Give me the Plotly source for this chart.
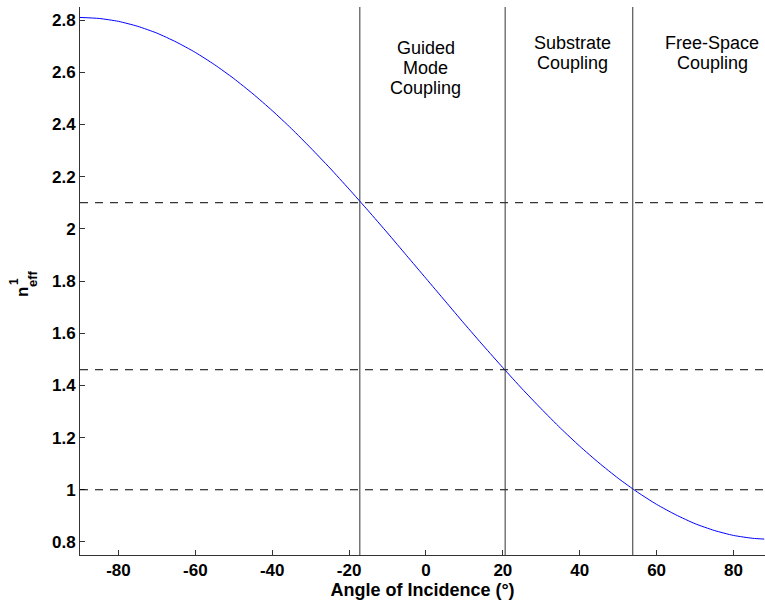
import plotly.graph_objects as go

# Data
angle_deg = [-90, -85, -80, -75, -70, -65, -60, -55, -50, -45, -40, -35, -30, -25, -20, -15, -10, -5,
             0, 5, 10, 15, 20, 25, 30, 35, 40, 45, 50, 55, 60, 65, 70, 75, 80, 85, 88]
n_eff = [2.810, 2.806, 2.795, 2.776, 2.750, 2.716, 2.676, 2.629, 2.576, 2.517, 2.453, 2.384, 2.310,
         2.233, 2.152, 2.069, 1.984, 1.897, 1.810, 1.723, 1.636, 1.551, 1.468, 1.387, 1.310, 1.236,
         1.167, 1.103, 1.044, 0.991, 0.944, 0.904, 0.870, 0.844, 0.825, 0.814, 0.811]

threshold_n = [2.1, 1.46, 1.0]
boundary_angles = [-17.2, 20.6, 53.8]
region_lines = [["Guided", "Mode", "Coupling"], ["Substrate", "Coupling"], ["Free-Space", "Coupling"]]
region_label_x = [0, 38, 74.5]
region_label_top_px = [36, 31, 31]

x_range = [-90, 88.2]
y_range = [0.75, 2.85]
x_ticks = [-80, -60, -40, -20, 0, 20, 40, 60, 80]
x_tick_text = ["-80", "-60", "-40", "-20", "0", "20", "40", "60", "80"]
y_ticks = [0.8, 1, 1.2, 1.4, 1.6, 1.8, 2, 2.2, 2.4, 2.6, 2.8]
y_tick_text = ["0.8", "1", "1.2", "1.4", "1.6", "1.8", "2", "2.2", "2.4", "2.6", "2.8"]

FONT = "Liberation Sans, Arial, Helvetica, sans-serif"

fig = go.Figure()
fig.add_trace(go.Scatter(x=angle_deg, y=n_eff, mode="lines",
                         line=dict(color="#0000ff", width=1, shape="spline", smoothing=0.6),
                         showlegend=False, hoverinfo="skip"))

shapes = []
for yv in threshold_n:
    shapes.append(dict(type="line", xref="paper", yref="y", x0=0, x1=1, y0=yv, y1=yv,
                       line=dict(color="black", width=1, dash="8px,7px")))
for xv in boundary_angles:
    shapes.append(dict(type="line", xref="x", yref="paper", x0=xv, x1=xv, y0=0, y1=1,
                       line=dict(color="#333333", width=1)))

W, H, L, B = 685, 548, 80, 555
def px(p):
    return (p - L) / W
def py(q):
    return (B - q) / H

annotations = []
LINE_H = 20
for lines, xv, top in zip(region_lines, region_label_x, region_label_top_px):
    for i, t in enumerate(lines):
        annotations.append(dict(x=xv, y=py(top + i * LINE_H), xref="x", yref="paper", text=t,
                                showarrow=False, xanchor="center", yanchor="top",
                                font=dict(family=FONT, size=18, color="black")))

# y-axis label n^1_eff (stacked super/subscript) as rotated text
annotations.append(dict(x=px(22), y=py(292), xref="paper", yref="paper", text="<b>n</b>",
                        xanchor="center", yanchor="middle",
                        textangle=-90, showarrow=False, font=dict(family=FONT, size=17, color="black")))
annotations.append(dict(x=px(32), y=py(278), xref="paper", yref="paper", text="<b>eff</b>",
                        xanchor="center", yanchor="middle",
                        textangle=-90, showarrow=False, font=dict(family=FONT, size=13, color="black")))
annotations.append(dict(x=px(14), y=py(282), xref="paper", yref="paper", text="<b>1</b>",
                        xanchor="center", yanchor="middle",
                        textangle=-90, showarrow=False, font=dict(family=FONT, size=12, color="black")))

fig.update_layout(
    width=765, height=604,
    margin=dict(l=80, r=0, t=7, b=49),
    paper_bgcolor="white", plot_bgcolor="white",
    shapes=shapes, annotations=annotations,
    xaxis=dict(range=x_range, tickvals=x_ticks, ticktext=x_tick_text, ticks="inside", ticklen=5,
               tickcolor="#333333", showline=True, linecolor="#333333", linewidth=1,
               showgrid=False, zeroline=False,
               tickfont=dict(family=FONT, size=17, color="black", weight="bold"),
               title=dict(text="<b>Angle of Incidence (°)</b>", standoff=2,
                          font=dict(family=FONT, size=18, color="black"))),
    yaxis=dict(range=y_range, tickvals=y_ticks, ticktext=y_tick_text, ticks="inside", ticklen=5,
               tickcolor="#333333", showline=True, linecolor="#333333", linewidth=1,
               showgrid=False, zeroline=False,
               tickfont=dict(family=FONT, size=17, color="black", weight="bold")),
)

fig.write_html("out.html")
